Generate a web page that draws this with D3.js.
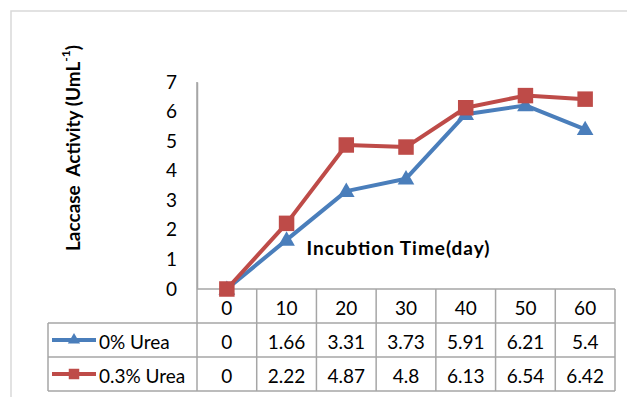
<!DOCTYPE html>
<html>
<head>
<meta charset="utf-8">
<script src="https://cdn.jsdelivr.net/npm/d3@7"></script>
<style>
  html, body { margin: 0; padding: 0; background: #fff; }
  svg { display: block; font-family: Lato, "Open Sans", sans-serif; }
</style>
</head>
<body>
<svg id="chart" width="627" height="397"></svg>
<script>
// Incubation days and laccase activity per urea level
const days = [0, 10, 20, 30, 40, 50, 60];
const urea0 = [0, 1.66, 3.31, 3.73, 5.91, 6.21, 5.4];
const urea03 = [0, 2.22, 4.87, 4.8, 6.13, 6.54, 6.42];
const yTicks = [0, 1, 2, 3, 4, 5, 6, 7];
const seriesNames = ["0% Urea", "0.3% Urea"];
const seriesColors = ["#4a7ebb", "#be4b48"];

const svg = d3.select("#chart");
const gridColor = "#a6a6a6";
const fontSize = 19;

// outer frame
svg.append("rect")
  .attr("x", 11).attr("y", 11).attr("width", 640).attr("height", 400)
  .attr("fill", "none").attr("stroke", "#d9d9d9").attr("stroke-width", 1.5);

const plotLeft = 197, plotRight = 615, plotTop = 82, zeroY = 289;
const rowH = 34;
const tableLeft = 48;

const x = d3.scaleBand().domain(days).range([plotLeft, plotRight]);
const y = d3.scaleLinear().domain([0, 7]).range([zeroY, plotTop]);

// y axis
const yAxis = svg.append("g")
  .attr("transform", `translate(${plotLeft},0)`)
  .call(d3.axisLeft(y).tickValues(yTicks).tickSize(0).tickPadding(20).tickFormat(d3.format("d")));
yAxis.select(".domain").attr("stroke", gridColor).attr("stroke-width", 1.5);
yAxis.selectAll("text").attr("font-size", fontSize).attr("fill", "#000")
  .attr("font-family", "Lato, 'Open Sans', sans-serif");

// data table grid
const rowsY = [zeroY, zeroY + rowH, zeroY + 2 * rowH, zeroY + 3 * rowH];
const g = svg.append("g").attr("stroke", gridColor).attr("stroke-width", 1.5).attr("fill", "none");
g.append("line").attr("x1", plotLeft).attr("x2", plotRight).attr("y1", rowsY[0]).attr("y2", rowsY[0]);
[rowsY[1], rowsY[2], rowsY[3]].forEach(yy =>
  g.append("line").attr("x1", tableLeft).attr("x2", plotRight).attr("y1", yy).attr("y2", yy));
g.append("line").attr("x1", plotLeft).attr("x2", plotLeft).attr("y1", plotTop).attr("y2", rowsY[3]);
g.append("line").attr("x1", tableLeft).attr("x2", tableLeft).attr("y1", rowsY[1]).attr("y2", rowsY[3]);
days.forEach(d => {
  const xx = x(d) + x.bandwidth();
  g.append("line").attr("x1", xx).attr("x2", xx).attr("y1", rowsY[0]).attr("y2", rowsY[3]);
});

// table text
const cellText = (tx, ty, txt) => svg.append("text")
  .attr("x", tx).attr("y", ty).attr("text-anchor", "middle").attr("dominant-baseline", "central")
  .attr("font-size", fontSize).attr("fill", "#000").text(txt);
days.forEach(d => cellText(x(d) + x.bandwidth() / 2, rowsY[0] + rowH / 2 + 1, d));
[urea0, urea03].forEach((vals, r) => {
  vals.forEach((v, i) => cellText(x(days[i]) + x.bandwidth() / 2, rowsY[r + 1] + rowH / 2 + 1, v));
});

// lines and markers
const line = d3.line().x((v, i) => x(days[i]) + x.bandwidth() / 2).y(v => y(v));
const tri = d3.symbol().type(d3.symbolTriangle).size(120);
const sq = d3.symbol().type(d3.symbolSquare).size(240);
const triSmall = d3.symbol().type(d3.symbolTriangle).size(65);
const sqSmall = d3.symbol().type(d3.symbolSquare).size(110);

[[urea0, 0, tri], [urea03, 1, sq]].forEach(([vals, s, sym]) => {
  svg.append("path").datum(vals).attr("d", line)
    .attr("fill", "none").attr("stroke", seriesColors[s]).attr("stroke-width", 4)
    .attr("stroke-linejoin", "round");
  svg.selectAll(null).data(vals).enter().append("path")
    .attr("d", sym)
    .attr("transform", (v, i) => `translate(${x(days[i]) + x.bandwidth() / 2},${y(v) + (s === 0 ? 1 : 0)})`)
    .attr("fill", seriesColors[s]);
});

// legend keys in table rows
[[0, triSmall], [1, sqSmall]].forEach(([s, sym]) => {
  const cy = rowsY[s + 1] + rowH / 2;
  svg.append("line").attr("x1", 52).attr("x2", 96).attr("y1", cy).attr("y2", cy)
    .attr("stroke", seriesColors[s]).attr("stroke-width", 4);
  svg.append("path").attr("d", sym).attr("transform", `translate(74,${cy})`).attr("fill", seriesColors[s]);
  svg.append("text").attr("x", 99).attr("y", cy + 1).attr("dominant-baseline", "central")
    .attr("font-size", fontSize).attr("fill", "#000").text(seriesNames[s]);
});

// axis titles
svg.append("text").attr("x", 398).attr("y", 247).attr("text-anchor", "middle")
  .attr("dominant-baseline", "central").attr("font-size", 19).attr("font-weight", "bold")
  .attr("textLength", 183).attr("lengthAdjust", "spacing")
  .text("Incubtion Time(day)");

const yt = svg.append("text").attr("transform", "translate(72,148) rotate(-90)")
  .attr("text-anchor", "middle").attr("dominant-baseline", "central")
  .attr("font-size", 19).attr("font-weight", "bold");
yt.append("tspan").text("Laccase\u00a0 Activity (UmL");
yt.append("tspan").attr("font-size", 12).attr("dy", -7).text("-1");
yt.append("tspan").attr("dy", 7).text(")");
</script>
</body>
</html>
